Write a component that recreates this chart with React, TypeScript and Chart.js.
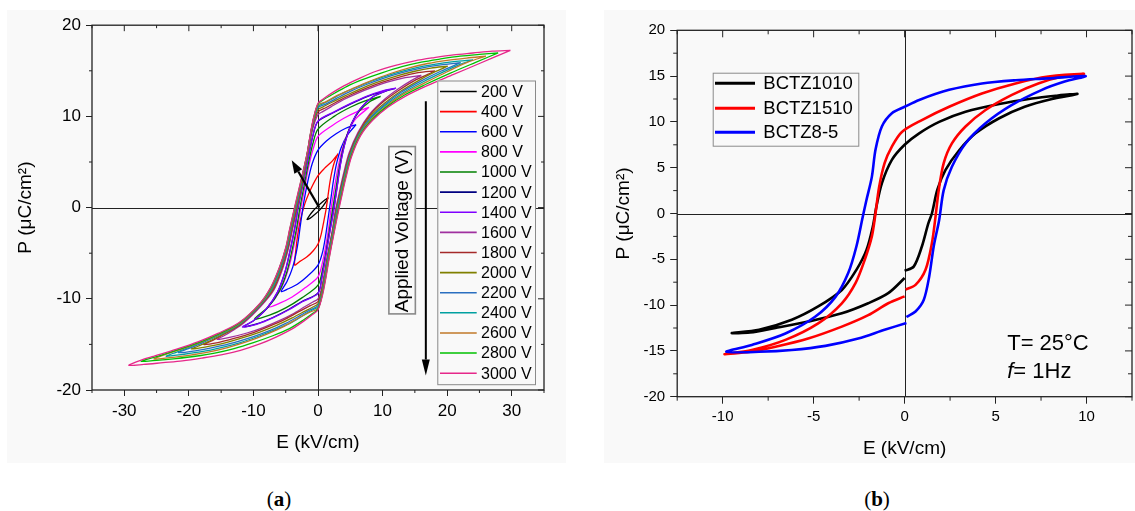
import React, { useEffect, useRef } from "react";
import { Chart, registerables } from "chart.js";

Chart.register(...registerables);

const FONT = "Arial, 'Liberation Sans', Helvetica, sans-serif";
const SERIF = "'Liberation Serif', 'Times New Roman', serif";
const PANEL_BG = "#f9f9f9";
const AXIS_COLOR = "#222222";

// ================= Panel (a): P-E loops vs applied voltage =================
const voltageLabels = [
  "200 V", "400 V", "600 V", "800 V", "1000 V", "1200 V", "1400 V", "1600 V",
  "1800 V", "2000 V", "2200 V", "2400 V", "2600 V", "2800 V", "3000 V",
];
const voltageColors = [
  "#000000", "#ff0000", "#0000ff", "#ff00ff", "#008000", "#000080", "#8000ff", "#a0309f",
  "#a52a2a", "#808000", "#2a6fc0", "#00a0a0", "#c07828", "#00c000", "#e6288a",
];

const loop200 = [[1.6,1.1],[1.1,0.85],[0.5,0.5],[-0.2,0.05],[-0.8,-0.4],[-1.3,-0.85],[-1.7,-1.3],[-1.2,-1.15],[-0.5,-0.75],[0.2,-0.3],[0.8,0.2],[1.3,0.7],[1.6,1.1]];
const loop400 = [[3.1,5.9],[2.2,5.1],[1.0,4.3],[0,3.5],[-1.0,2.2],[-1.8,0.9],[-2.3,-0.2],[-2.8,-1.6],[-3.2,-3.3],[-3.45,-4.8],[-3.6,-6.3],[-2.8,-5.9],[-1.7,-5.4],[-0.7,-4.7],[0,-4.0],[0.5,-2.9],[0.9,-1.5],[1.25,-0.2],[1.55,1.3],[1.85,2.8],[2.2,4.1],[2.6,5.1],[3.1,5.9]];
const loop600 = [[5.9,9.1],[4.3,8.7],[2.8,8.1],[1.3,7.3],[0,6.3],[-0.9,4.8],[-1.6,2.8],[-2.2,0.6],[-2.7,-1.8],[-3.2,-4.3],[-3.9,-6.5],[-4.8,-8.1],[-5.7,-9.2],[-4.6,-8.9],[-3.2,-8.4],[-1.6,-7.5],[0,-6.3],[0.7,-4.9],[1.2,-3.0],[1.6,-1.0],[2.0,1.0],[2.4,3.0],[2.9,4.9],[3.6,6.6],[4.6,8.0],[5.9,9.1]];
const loop800 = [[7.9,11.0],[6,10.5],[4,9.8],[2,8.9],[0,7.8],[-0.8,6.3],[-1.5,4.3],[-2.1,2.0],[-2.65,0],[-3.15,-2.1],[-3.7,-4.1],[-4.3,-6.0],[-5.3,-8.2],[-6.5,-9.8],[-7.7,-10.9],[-6,-10.5],[-4,-9.8],[-2,-8.8],[0,-7.6],[0.7,-6.0],[1.25,-4.0],[1.7,-2.0],[2.05,0],[2.5,2.0],[3.0,4.0],[3.6,6.0],[4.5,8.0],[5.8,9.7],[7.9,11.0]];
const loop1000 = [[9.7,12.2],[7.5,11.75],[5,11.0],[2.5,10.0],[0,8.6],[-0.8,7.0],[-1.5,4.8],[-2.15,2.4],[-2.8,0],[-3.3,-2.2],[-4.0,-4.6],[-4.8,-7.0],[-6.0,-9.2],[-7.7,-10.9],[-9.8,-12.2],[-7.5,-11.8],[-5,-11.0],[-2.5,-9.9],[0,-8.5],[0.7,-6.8],[1.3,-4.6],[1.8,-2.3],[2.3,0],[2.8,2.2],[3.3,4.4],[4.0,6.8],[5.0,8.9],[6.3,10.5],[8.0,11.6],[9.7,12.2]];
const loop1200 = [[11.9,13.05],[10,12.75],[7.5,12.15],[5,11.35],[2.5,10.45],[0,9.45],[-0.8,7.85],[-1.5,5.55],[-2.28,2.8],[-3.08,0],[-3.58,-2.2],[-4.28,-4.6],[-5.08,-7.0],[-6.28,-9.3],[-7.98,-11.1],[-9.9,-12.35],[-11.5,-13.05],[-9.5,-12.75],[-7,-12.05],[-4.5,-11.15],[-2.5,-10.3],[0,-9.35],[0.6,-7.65],[1.2,-5.25],[1.83,-2.6],[2.48,0],[2.98,2.4],[3.48,4.8],[4.18,7.1],[5.18,9.2],[6.58,10.85],[8.5,12.15],[10.4,12.75],[11.9,13.05]];
const loop1400 = [[12.1,13.1],[10,12.8],[7.5,12.2],[5,11.4],[2.5,10.5],[0,9.5],[-0.8,7.9],[-1.5,5.6],[-2.3,2.8],[-3.1,0],[-3.6,-2.2],[-4.3,-4.6],[-5.1,-7.0],[-6.3,-9.3],[-8.0,-11.1],[-10,-12.4],[-11.7,-13.1],[-9.5,-12.8],[-7,-12.1],[-4.5,-11.2],[-2.5,-10.35],[0,-9.4],[0.6,-7.7],[1.2,-5.3],[1.85,-2.6],[2.5,0],[3.0,2.4],[3.5,4.8],[4.2,7.1],[5.2,9.2],[6.6,10.9],[8.6,12.2],[10.5,12.8],[12.1,13.1]];
const loop1600 = [[16,14.5],[13.5,14.25],[11,13.8],[8.5,13.2],[6,12.5],[4,11.85],[2,11.05],[0.8,10.55],[0,10.2],[-0.7,8.95],[-1.2,7.4],[-1.7,5.45],[-2.28,3.1],[-2.9,1.0],[-3.35,-0.5],[-3.95,-2.4],[-4.55,-4.4],[-5.55,-6.85],[-6.85,-9.05],[-8.9,-10.85],[-11.5,-12.65],[-13.5,-13.6],[-14.7,-14.1],[-15.6,-14.45],[-13.5,-14.2],[-11,-13.75],[-8.5,-13.15],[-6,-12.4],[-4,-11.7],[-2,-10.85],[-0.8,-10.35],[0,-10.0],[0.5,-9.0],[0.95,-7.35],[1.45,-5.25],[2.15,-2.75],[2.65,-0.45],[3.2,1.35],[3.9,3.55],[4.8,5.95],[6.2,8.25],[8.0,10.25],[10.1,11.75],[12.4,13.0],[14.5,13.95],[16,14.5]];
const loop1800 = [[18.1,15.0],[15.5,14.8],[13,14.4],[10,13.75],[7.5,13.1],[5,12.35],[2.8,11.55],[1.2,10.95],[0,10.5],[-0.7,9.2],[-1.2,7.55],[-1.7,5.55],[-2.33,3.15],[-2.95,1.05],[-3.45,-0.5],[-4.05,-2.4],[-4.65,-4.4],[-5.65,-6.8],[-6.95,-9.0],[-9,-10.8],[-11.8,-12.7],[-14.5,-13.85],[-16.3,-14.55],[-17.7,-15.0],[-15.5,-14.8],[-13,-14.35],[-10,-13.7],[-7.5,-13.0],[-5,-12.2],[-2.8,-11.35],[-1.2,-10.75],[0,-10.3],[0.54,-9.15],[1.0,-7.45],[1.5,-5.35],[2.2,-2.8],[2.75,-0.5],[3.3,1.3],[4.0,3.5],[4.9,5.9],[6.3,8.2],[8.1,10.2],[10.2,11.65],[12.6,12.9],[15,13.95],[17,14.6],[18.1,15.0]];
const loop2000 = [[20.1,15.5],[17.5,15.3],[15,14.95],[12,14.4],[9,13.7],[6.5,13.0],[4,12.2],[2,11.5],[0.8,11.05],[0,10.75],[-0.7,9.4],[-1.2,7.7],[-1.7,5.65],[-2.38,3.2],[-3.0,1.1],[-3.55,-0.5],[-4.15,-2.4],[-4.75,-4.4],[-5.75,-6.75],[-7.05,-8.95],[-9,-10.75],[-12,-12.75],[-15,-14.0],[-17.3,-14.8],[-18.6,-15.2],[-19.6,-15.5],[-17.5,-15.3],[-15,-14.95],[-12,-14.35],[-9,-13.65],[-6.5,-12.95],[-4,-12.1],[-2,-11.35],[-0.8,-10.9],[0,-10.55],[0.57,-9.3],[1.03,-7.55],[1.53,-5.45],[2.23,-2.85],[2.8,-0.55],[3.35,1.25],[4.05,3.45],[4.95,5.85],[6.35,8.15],[8.2,10.1],[10.4,11.5],[12.8,12.75],[15.5,13.9],[18,14.85],[20.1,15.5]];
const loop2200 = [[22.1,15.9],[19,15.65],[16,15.3],[13,14.8],[10,14.15],[7.5,13.5],[5,12.75],[2.8,11.95],[1.2,11.35],[0,10.95],[-0.7,9.5],[-1.2,7.8],[-1.7,5.7],[-2.42,3.25],[-3.05,1.15],[-3.62,-0.5],[-4.21,-2.4],[-4.81,-4.4],[-5.81,-6.7],[-7.11,-8.9],[-9,-10.7],[-12.2,-12.8],[-15.5,-14.05],[-18,-14.85],[-20.2,-15.5],[-21.6,-15.9],[-19,-15.7],[-16,-15.3],[-13,-14.8],[-10,-14.15],[-7.5,-13.5],[-5,-12.7],[-2.8,-11.85],[-1.2,-11.2],[0,-10.75],[0.6,-9.4],[1.07,-7.6],[1.57,-5.5],[2.27,-2.9],[2.85,-0.6],[3.4,1.2],[4.1,3.4],[5.0,5.8],[6.4,8.1],[8.3,10.0],[10.5,11.4],[13,12.7],[16,13.9],[19,14.95],[22.1,15.9]];
const loop2400 = [[24,16.2],[21,16.0],[18,15.7],[15,15.3],[12,14.75],[9,14.05],[6.5,13.35],[4,12.6],[2,11.85],[0.8,11.4],[0,11.1],[-0.7,9.6],[-1.2,7.85],[-1.7,5.75],[-2.45,3.3],[-3.1,1.2],[-3.68,-0.5],[-4.27,-2.4],[-4.87,-4.4],[-5.87,-6.65],[-7.17,-8.85],[-9,-10.65],[-12.2,-12.75],[-15.5,-14.0],[-18.5,-14.9],[-21,-15.6],[-22.5,-16.0],[-23.5,-16.3],[-21,-16.1],[-18,-15.8],[-15,-15.35],[-12,-14.8],[-9,-14.05],[-6.5,-13.35],[-4,-12.55],[-2,-11.7],[-0.8,-11.2],[0,-10.9],[0.62,-9.45],[1.1,-7.65],[1.6,-5.55],[2.3,-2.95],[2.9,-0.65],[3.45,1.15],[4.15,3.35],[5.05,5.75],[6.45,8.05],[8.35,9.9],[10.6,11.3],[13.2,12.6],[16.3,13.8],[19.5,14.9],[22,15.7],[24,16.2]];
const loop2600 = [[26,16.6],[23,16.4],[20,16.15],[17,15.8],[14,15.3],[11,14.65],[8,13.85],[5.5,13.1],[3,12.3],[1.2,11.6],[0,11.25],[-0.7,9.7],[-1.2,7.9],[-1.7,5.8],[-2.48,3.3],[-3.15,1.2],[-3.73,-0.5],[-4.33,-2.4],[-4.93,-4.4],[-5.93,-6.6],[-7.23,-8.8],[-9,-10.6],[-12.2,-12.7],[-15.5,-13.95],[-18.5,-14.85],[-21.5,-15.6],[-23.8,-16.15],[-25.4,-16.6],[-23,-16.45],[-20,-16.2],[-17,-15.85],[-14,-15.35],[-11,-14.7],[-8,-13.9],[-5.5,-13.1],[-3,-12.1],[-1.2,-11.45],[0,-11.05],[0.64,-9.5],[1.14,-7.7],[1.64,-5.6],[2.34,-3.0],[2.96,-0.7],[3.5,1.1],[4.2,3.3],[5.1,5.7],[6.5,8.0],[8.4,9.8],[10.7,11.2],[13.3,12.5],[16.6,13.7],[20,14.9],[23.2,15.95],[26,16.6]];
const loop2800 = [[27.9,16.96],[25,16.8],[22,16.6],[19,16.3],[16,15.95],[13,15.45],[10,14.8],[7,14.05],[4.5,13.3],[2.2,12.4],[0.8,11.8],[0,11.35],[-0.7,9.75],[-1.2,7.95],[-1.7,5.85],[-2.5,3.35],[-3.18,1.25],[-3.77,-0.5],[-4.37,-2.4],[-4.97,-4.4],[-5.97,-6.6],[-7.27,-8.75],[-9,-10.55],[-12.2,-12.65],[-15.5,-13.9],[-18.5,-14.8],[-22,-15.65],[-25,-16.35],[-27.4,-16.85],[-25,-16.75],[-22,-16.55],[-19,-16.3],[-16,-15.95],[-13,-15.45],[-10,-14.8],[-7,-14.05],[-4.5,-13.3],[-2.2,-12.3],[-0.8,-11.6],[0,-11.12],[0.67,-9.55],[1.17,-7.75],[1.67,-5.65],[2.37,-3.05],[3.0,-0.75],[3.55,1.05],[4.25,3.25],[5.15,5.65],[6.55,7.95],[8.45,9.7],[10.75,11.1],[13.4,12.35],[16.8,13.55],[20.5,14.75],[24.5,15.95],[27.9,16.96]];
const loop3000 = [[29.8,17.25],[27,17.15],[24,16.95],[21,16.75],[18,16.45],[15,16.1],[12,15.6],[9,14.95],[6.5,14.2],[4,13.35],[2,12.5],[0.8,11.9],[0,11.45],[-0.7,9.8],[-1.2,8.0],[-1.7,5.9],[-2.5,3.4],[-3.2,1.3],[-3.8,-0.5],[-4.4,-2.4],[-5.0,-4.4],[-6.0,-6.6],[-7.3,-8.7],[-9,-10.5],[-12.2,-12.6],[-15.5,-13.8],[-18.5,-14.7],[-22,-15.55],[-25.7,-16.35],[-27.5,-16.75],[-29.3,-17.3],[-27,-17.2],[-24,-17.0],[-21,-16.8],[-18,-16.5],[-15,-16.15],[-12,-15.65],[-9,-14.95],[-6.5,-14.2],[-4,-13.3],[-2,-12.35],[-0.8,-11.7],[0,-11.2],[0.7,-9.6],[1.2,-7.8],[1.7,-5.7],[2.4,-3.1],[3.05,-0.8],[3.6,1.0],[4.3,3.2],[5.2,5.6],[6.6,7.9],[8.5,9.6],[10.8,11.0],[13.5,12.2],[17,13.4],[21,14.6],[25,15.8],[29.8,17.25]];

const loopsA = [loop200, loop400, loop600, loop800, loop1000, loop1200, loop1400, loop1600, loop1800, loop2000, loop2200, loop2400, loop2600, loop2800, loop3000];

const xMajorA = [-30, -20, -10, 0, 10, 20, 30];
const xMinorA = [-35, -25, -15, -5, 5, 15, 25, 35];
const yMajorA = [-20, -10, 0, 10, 20];
const yMinorA = [-15, -5, 5, 15];

// ================= Panel (b): three compositions =================
const seriesNamesB = ["BCTZ1010", "BCTZ1510", "BCTZ8-5"];
const seriesColorsB = ["#000000", "#ff0000", "#0000ff"];
const bctz1010 = [[0.0,-6.25],[0.5,-5.8],[0.95,-3.6],[1.3,-1.1],[1.5,0],[1.8,2.6],[2.25,4.75],[3.0,6.9],[3.9,8.75],[5.2,10.4],[6.6,11.65],[8.1,12.5],[9.5,13.05],[8.3,12.85],[7.0,12.55],[5.2,11.95],[3.35,11.1],[1.9,10.0],[0.8,8.75],[0.0,7.5],[-0.7,5.85],[-1.25,3.3],[-1.55,0.75],[-1.75,-1.45],[-2.1,-4.0],[-2.65,-6.15],[-3.45,-8.35],[-4.75,-10.15],[-6.2,-11.6],[-8.0,-12.7],[-9.5,-13.05],[-8.5,-13.0],[-7.1,-12.5],[-5.3,-11.8],[-3.45,-10.9],[-2.0,-9.8],[-0.9,-8.7],[0.0,-7.05]];
const bctz1510 = [[0.05,-8.3],[0.6,-7.8],[1.15,-6.15],[1.5,-3.25],[1.7,-0.35],[1.88,2.6],[2.15,5.5],[2.6,7.65],[3.35,9.5],[4.45,11.3],[5.9,12.95],[7.35,14.2],[8.8,15.0],[9.85,15.25],[7.9,14.95],[6.1,14.2],[4.25,13.1],[2.45,11.65],[0.95,10.2],[-0.15,8.9],[-0.7,7.3],[-1.1,5.5],[-1.4,2.9],[-1.6,0.0],[-1.8,-2.5],[-2.2,-5.1],[-2.7,-7.6],[-3.45,-9.8],[-4.75,-12.0],[-6.55,-13.8],[-8.4,-14.9],[-9.9,-15.35],[-8.5,-15.1],[-7.1,-14.55],[-5.3,-13.65],[-3.45,-12.35],[-2.0,-11.1],[-0.9,-9.8],[0.0,-9.05]];
const bctz85 = [[0.1,-11.3],[0.6,-10.7],[1.05,-9.45],[1.35,-6.9],[1.6,-3.6],[1.9,-0.7],[2.15,2.55],[2.6,5.1],[3.35,7.65],[4.45,9.85],[5.9,11.85],[7.55,13.5],[8.8,14.4],[9.95,15.0],[7.9,14.75],[6.1,14.55],[4.25,14.2],[2.45,13.5],[0.8,12.4],[0.0,11.65],[-0.7,10.95],[-1.25,9.5],[-1.6,6.95],[-1.8,4.0],[-2.1,1.45],[-2.3,-0.35],[-2.65,-3.6],[-3.1,-6.5],[-3.8,-9.1],[-4.9,-11.25],[-6.55,-13.1],[-8.4,-14.35],[-9.8,-15.1],[-8.0,-15.1],[-6.2,-14.9],[-4.35,-14.45],[-2.55,-13.65],[-1.1,-12.7],[0.1,-11.95]];
const seriesB = [bctz1010, bctz1510, bctz85];

const xMajorB = [-10, -5, 0, 5, 10];
const xMinorB = [-12.5, -7.5, -2.5, 2.5, 7.5, 12.5];
const yMajorB = [-20, -15, -10, -5, 0, 5, 10, 15, 20];
const yMinorB = [-17.5, -12.5, -7.5, -2.5, 2.5, 7.5, 12.5, 17.5];

// ================= drawing helpers =================
function drawZeroLines(chart: any) {
  const { ctx, chartArea: a, scales } = chart;
  const x0 = Math.round(scales.x.getPixelForValue(0)) + 0.5;
  const y0 = Math.round(scales.y.getPixelForValue(0)) + 0.5;
  ctx.save();
  ctx.strokeStyle = AXIS_COLOR;
  ctx.lineWidth = 1;
  ctx.beginPath();
  ctx.moveTo(a.left, y0);
  ctx.lineTo(a.right, y0);
  ctx.moveTo(x0, a.top);
  ctx.lineTo(x0, a.bottom);
  ctx.stroke();
  ctx.restore();
}

function drawFrameTicks(chart: any, xMajor: number[], xMinor: number[], yMajor: number[], yMinor: number[], major: number, minor: number) {
  const { ctx, chartArea: a, scales } = chart;
  const xs = scales.x;
  const ys = scales.y;
  ctx.save();
  ctx.strokeStyle = AXIS_COLOR;
  ctx.lineWidth = 1.3;
  ctx.strokeRect(a.left, a.top, a.right - a.left, a.bottom - a.top);
  ctx.lineWidth = 1;
  ctx.beginPath();
  for (const v of xMajor) {
    const p = xs.getPixelForValue(v);
    ctx.moveTo(p, a.top);
    ctx.lineTo(p, a.top + major);
  }
  for (const v of xMinor) {
    const p = xs.getPixelForValue(v);
    ctx.moveTo(p, a.top);
    ctx.lineTo(p, a.top + minor);
    ctx.moveTo(p, a.bottom);
    ctx.lineTo(p, a.bottom + minor);
  }
  for (const v of yMajor) {
    const p = ys.getPixelForValue(v);
    ctx.moveTo(a.right, p);
    ctx.lineTo(a.right - major, p);
  }
  for (const v of yMinor) {
    const p = ys.getPixelForValue(v);
    ctx.moveTo(a.right, p);
    ctx.lineTo(a.right - minor, p);
    ctx.moveTo(a.left, p);
    ctx.lineTo(a.left - minor, p);
  }
  ctx.stroke();
  ctx.restore();
}

function drawArrow(ctx: any, x1: number, y1: number, x2: number, y2: number, headLen: number, headW: number, lw: number) {
  const ang = Math.atan2(y2 - y1, x2 - x1);
  const bx = x2 - headLen * Math.cos(ang);
  const by = y2 - headLen * Math.sin(ang);
  ctx.lineWidth = lw;
  ctx.beginPath();
  ctx.moveTo(x1, y1);
  ctx.lineTo(bx, by);
  ctx.stroke();
  ctx.beginPath();
  ctx.moveTo(x2, y2);
  ctx.lineTo(bx + (headW / 2) * Math.sin(ang), by - (headW / 2) * Math.cos(ang));
  ctx.lineTo(bx - (headW / 2) * Math.sin(ang), by + (headW / 2) * Math.cos(ang));
  ctx.closePath();
  ctx.fill();
}

// annotation anchors for panel (a), in data units (E, P)
const ANNOT_A = {
  voltBox: { e1: 10.9, e2: 15.0, p1: 6.75, p2: -11.6 },
  voltText: { e: 12.95, p: -2.55 },
  vArrow: { e: 16.7, p1: 11.65, p2: -18.4 },
  dArrow: { e1: 0.2, p1: 0.0, e2: -4.07, p2: 5.19 },
};

const decorA = {
  id: "decorA",
  beforeDatasetsDraw(chart: any) {
    drawZeroLines(chart);
  },
  afterDraw(chart: any) {
    const { ctx, chartArea: a, scales } = chart;
    const xs = scales.x;
    const ys = scales.y;
    drawFrameTicks(chart, xMajorA, xMinorA, yMajorA, yMinorA, 6, 3);

    // legend
    const bx = a.right - 106.7;
    const by = a.top + 55.3;
    const bw = 97.7;
    const bh = 303.7;
    ctx.save();
    ctx.fillStyle = PANEL_BG;
    ctx.fillRect(bx, by, bw, bh);
    ctx.strokeStyle = "#8a8a8a";
    ctx.lineWidth = 1;
    ctx.strokeRect(bx + 0.5, by + 0.5, bw, bh);
    ctx.font = `16px ${FONT}`;
    ctx.textBaseline = "middle";
    ctx.textAlign = "left";
    chart.data.datasets.forEach((ds: any, i: number) => {
      const y = by + 11 + 20.12 * i;
      ctx.strokeStyle = ds.borderColor;
      ctx.lineWidth = 1.6;
      ctx.beginPath();
      ctx.moveTo(bx + 2.7, y);
      ctx.lineTo(bx + 39.4, y);
      ctx.stroke();
      ctx.fillStyle = "#000";
      ctx.fillText(ds.label, bx + 43.7, y + 1);
    });

    // "Applied Voltage (V)" box
    const vb = ANNOT_A.voltBox;
    const vx1 = xs.getPixelForValue(vb.e1);
    const vx2 = xs.getPixelForValue(vb.e2);
    const vy1 = ys.getPixelForValue(vb.p1);
    const vy2 = ys.getPixelForValue(vb.p2);
    ctx.fillStyle = PANEL_BG;
    ctx.fillRect(vx1, vy1, vx2 - vx1, vy2 - vy1);
    ctx.strokeStyle = "#8a8a8a";
    ctx.strokeRect(vx1 + 0.5, vy1 + 0.5, vx2 - vx1, vy2 - vy1);
    ctx.save();
    ctx.translate(xs.getPixelForValue(ANNOT_A.voltText.e), ys.getPixelForValue(ANNOT_A.voltText.p));
    ctx.rotate(-Math.PI / 2);
    ctx.fillStyle = "#000";
    ctx.font = `19px ${FONT}`;
    ctx.textAlign = "center";
    ctx.textBaseline = "middle";
    ctx.fillText("Applied Voltage (V)", 0, 1);
    ctx.restore();

    // arrows
    ctx.fillStyle = "#000";
    ctx.strokeStyle = "#000";
    const va = ANNOT_A.vArrow;
    const vax = xs.getPixelForValue(va.e);
    drawArrow(ctx, vax, ys.getPixelForValue(va.p1), vax, ys.getPixelForValue(va.p2), 16, 8, 2);
    const da = ANNOT_A.dArrow;
    drawArrow(ctx, xs.getPixelForValue(da.e1), ys.getPixelForValue(da.p1), xs.getPixelForValue(da.e2), ys.getPixelForValue(da.p2), 13, 9, 2.2);
    ctx.restore();
  },
};

// annotation anchors for panel (b)
const ANNOT_B = {
  tempText: { e: 5.64, p: -14.9 },
  freqText: { e: 5.64, p: -17.96 },
};

const decorB = {
  id: "decorB",
  beforeDatasetsDraw(chart: any) {
    drawZeroLines(chart);
  },
  afterDraw(chart: any) {
    const { ctx, chartArea: a, scales } = chart;
    const xs = scales.x;
    const ys = scales.y;
    drawFrameTicks(chart, xMajorB, xMinorB, yMajorB, yMinorB, 7, 4);

    // legend
    const bx = a.left + 35.5;
    const by = a.top + 42.4;
    const bw = 145.6;
    const bh = 73;
    ctx.save();
    ctx.fillStyle = PANEL_BG;
    ctx.fillRect(bx, by, bw, bh);
    ctx.strokeStyle = "#8a8a8a";
    ctx.lineWidth = 1;
    ctx.strokeRect(bx + 0.5, by + 0.5, bw, bh);
    ctx.font = `18.5px ${FONT}`;
    ctx.textBaseline = "middle";
    ctx.textAlign = "left";
    const rows = [10.6, 35.6, 59.6];
    chart.data.datasets.forEach((ds: any, i: number) => {
      const y = by + rows[i];
      ctx.strokeStyle = ds.borderColor;
      ctx.lineWidth = 3;
      ctx.beginPath();
      ctx.moveTo(bx + 2.3, y);
      ctx.lineTo(bx + 42.3, y);
      ctx.stroke();
      ctx.fillStyle = "#000";
      ctx.fillText(ds.label, bx + 50.6, y + 1);
    });

    // T and f annotation
    ctx.fillStyle = "#000";
    ctx.textBaseline = "alphabetic";
    ctx.font = `22px ${FONT}`;
    const tx = xs.getPixelForValue(ANNOT_B.tempText.e);
    ctx.fillText("T= 25°C", tx, ys.getPixelForValue(ANNOT_B.tempText.p));
    const fy = ys.getPixelForValue(ANNOT_B.freqText.p);
    ctx.font = `italic 22px ${FONT}`;
    ctx.fillText("f", tx, fy);
    const fw = ctx.measureText("f").width;
    ctx.font = `22px ${FONT}`;
    ctx.fillText("= 1Hz", tx + fw, fy);
    ctx.restore();
  },
};

function axisOpts(o: any) {
  return {
    type: "linear",
    position: o.position,
    min: o.min,
    max: o.max,
    afterBuildTicks: (s: any) => {
      s.ticks = o.major.map((v: number) => ({ value: v }));
    },
    afterFit: (s: any) => {
      if (o.position === "bottom") s.height = o.size;
      else s.width = o.size;
    },
    ticks: {
      font: { family: FONT, size: o.tickSize },
      color: "#000",
      padding: o.tickPad,
      maxRotation: 0,
      autoSkip: false,
      callback: (v: any) => String(v),
    },
    grid: {
      display: true,
      drawOnChartArea: false,
      drawTicks: true,
      tickLength: o.tickLen,
      color: AXIS_COLOR,
      tickColor: AXIS_COLOR,
      tickWidth: 1,
    },
    border: { display: false },
    title: {
      display: true,
      text: o.title,
      color: "#000",
      font: { family: FONT, size: o.titleSize },
      padding: o.titlePad,
    },
  };
}

function makeConfigA(): any {
  return {
    type: "scatter",
    data: {
      datasets: loopsA.map((pts, i) => ({
        label: voltageLabels[i],
        data: pts.map(([x, y]) => ({ x, y })),
        borderColor: voltageColors[i],
        backgroundColor: voltageColors[i],
        borderWidth: 1.3,
        showLine: true,
        tension: 0.3,
        pointRadius: 0,
        fill: false,
        order: loopsA.length - i,
      })),
    },
    options: {
      responsive: false,
      animation: false,
      devicePixelRatio: 1,
      events: [],
      layout: { padding: { top: 13.7, right: 22, left: 0, bottom: 0 } },
      plugins: { legend: { display: false }, tooltip: { enabled: false } },
      scales: {
        x: axisOpts({ position: "bottom", min: -35, max: 35, major: xMajorA, size: 73, tickSize: 17, tickPad: 5, tickLen: 6, title: "E (kV/cm)", titleSize: 19, titlePad: { top: 0, bottom: 9 } }),
        y: axisOpts({ position: "left", min: -20, max: 20, major: yMajorA, size: 85, tickSize: 17, tickPad: 5, tickLen: 6, title: "P (μC/cm²)", titleSize: 19, titlePad: { top: 7.4, bottom: 0 } }),
      },
    },
    plugins: [decorA],
  };
}

function makeConfigB(): any {
  return {
    type: "scatter",
    data: {
      datasets: seriesB.map((pts, i) => ({
        label: seriesNamesB[i],
        data: pts.map(([x, y]) => ({ x, y })),
        borderColor: seriesColorsB[i],
        backgroundColor: seriesColorsB[i],
        borderWidth: 2.6,
        showLine: true,
        tension: 0.3,
        pointRadius: 0,
        fill: false,
        order: seriesB.length - i,
      })),
    },
    options: {
      responsive: false,
      animation: false,
      devicePixelRatio: 1,
      events: [],
      layout: { padding: { top: 20.3, right: 3, left: 0, bottom: 0 } },
      plugins: { legend: { display: false }, tooltip: { enabled: false } },
      scales: {
        x: axisOpts({ position: "bottom", min: -12.5, max: 12.5, major: xMajorB, size: 66.3, tickSize: 15, tickPad: 4, tickLen: 7, title: "E (kV/cm)", titleSize: 19, titlePad: { top: 0, bottom: 3 } }),
        y: axisOpts({ position: "left", min: -20, max: 20, major: yMajorB, size: 73.2, tickSize: 15, tickPad: 5, tickLen: 7, title: "P (μC/cm²)", titleSize: 19, titlePad: { top: 8.6, bottom: 0 } }),
      },
    },
    plugins: [decorB],
  };
}

function ChartCanvas({ width, height, makeConfig }: { width: number; height: number; makeConfig: () => any }) {
  const ref = useRef<HTMLCanvasElement | null>(null);
  useEffect(() => {
    if (!ref.current) return;
    const chart = new Chart(ref.current, makeConfig());
    return () => chart.destroy();
  }, []);
  return <canvas ref={ref} width={width} height={height} style={{ display: "block", width, height }} />;
}

function captionStyle(cx: number): React.CSSProperties {
  return {
    position: "absolute",
    left: cx - 40,
    top: 486,
    width: 80,
    textAlign: "center",
    fontFamily: SERIF,
    fontSize: 21,
    lineHeight: "26px",
    color: "#000",
  };
}

export default function App() {
  return (
    <div style={{ position: "fixed", left: 0, top: 0, width: 1135, height: 511, background: "#ffffff", overflow: "hidden" }}>
      <div style={{ position: "absolute", left: 7, top: 10, width: 559, height: 453, background: PANEL_BG }}>
        <ChartCanvas width={559} height={453} makeConfig={makeConfigA} />
      </div>
      <div style={{ position: "absolute", left: 604, top: 10, width: 531, height: 453, background: PANEL_BG }}>
        <ChartCanvas width={531} height={453} makeConfig={makeConfigB} />
      </div>
      <div style={captionStyle(279)}>(<b>a</b>)</div>
      <div style={captionStyle(877)}>(<b>b</b>)</div>
    </div>
  );
}
